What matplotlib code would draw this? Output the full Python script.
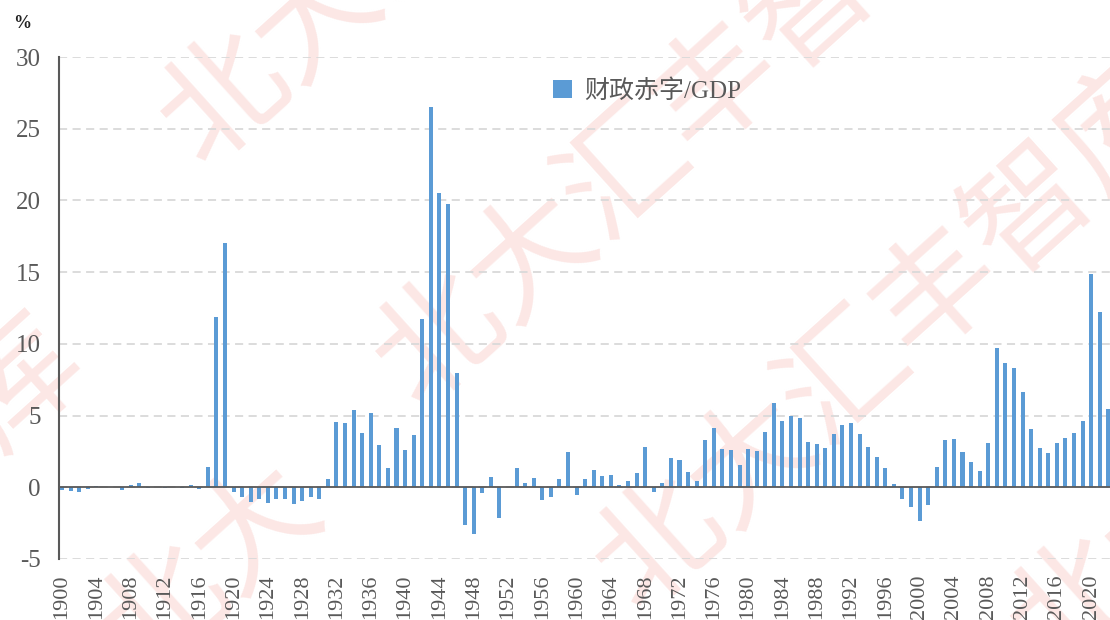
import numpy as np
import matplotlib.pyplot as plt

plt.rcParams['axes.unicode_minus'] = False

# deficit / GDP (%), 1900-2022
years = list(range(1900, 2023))
deficit = [
    -0.2, -0.25, -0.3, -0.12, 0.12, 0.02, 0.02, -0.2, 0.16, 0.28,      # 1900s
    -0.02, 0.02, -0.02, 0.02, -0.02, 0.14, -0.12, 1.4, 11.9, 17.0,     # 1910s
    -0.35, -0.7, -1.0, -0.85, -1.1, -0.8, -0.85, -1.2, -0.95, -0.7,    # 1920s
    -0.8, 0.6, 4.55, 4.5, 5.4, 3.8, 5.2, 2.95, 1.35, 4.1,              # 1930s
    2.6, 3.65, 11.7, 26.5, 20.55, 19.75, 8.0, -2.65, -3.25, -0.4,      # 1940s
    0.7, -2.15, 0.02, 1.33, 0.28, 0.65, -0.9, -0.7, 0.6, 2.45,         # 1950s
    -0.53, 0.6, 1.23, 0.76, 0.86, 0.19, 0.46, 1.0, 2.78, -0.32,        # 1960s
    0.28, 2.06, 1.9, 1.09, 0.42, 3.3, 4.12, 2.64, 2.6, 1.57,           # 1970s
    2.66, 2.52, 3.84, 5.86, 4.63, 4.95, 4.84, 3.15, 3.0, 2.73,         # 1980s
    3.73, 4.37, 4.49, 3.74, 2.81, 2.12, 1.33, 0.21, -0.79, -1.35,      # 1990s
    -2.37, -1.23, 1.44, 3.3, 3.4, 2.44, 1.77, 1.12, 3.07, 9.74,        # 2000s
    8.65, 8.35, 6.65, 4.07, 2.77, 2.4, 3.12, 3.44, 3.79, 4.6,          # 2010s
    14.9, 12.2, 5.44,                                                  # 2020s
]
xticks = list(range(1900, 2021, 4))
yticks = [-5, 0, 5, 10, 15, 20, 25, 30]
label = '财政赤字/GDP'
watermark = '北大汇丰智库'

serif = ['Liberation Serif', 'Noto Sans CJK SC']
grey = '#595959'

fig = plt.figure(figsize=(11.1, 6.2), dpi=100)
ax = fig.add_axes([0.0532, 0.0984, 0.9468, 0.8096])
ax.patch.set_alpha(0)

# faint watermark behind the plot (centre of first glyph, in pixels from top-left)
ang = np.deg2rad(42)
for cx, cy, txt in [(225, 100, watermark), (440, 340, watermark), (660, 545, watermark),
                    (20, 385, watermark[-1]), (165, 612, watermark[:2]),
                    (1075, 605, watermark[:2])]:
    x0 = cx - 62 * np.cos(ang)
    y0 = (620 - cy) - 62 * np.sin(ang)
    fig.text(x0 / 1110, y0 / 620, txt, fontsize=90, color='#fce7e5',
             rotation=42, rotation_mode='anchor', ha='left', va='center',
             family='Noto Sans CJK SC', fontweight='light', zorder=-10)

ax.bar(years, deficit, width=0.47, color='#5b9bd5', label=label, zorder=3)

ax.set_xlim(1899.65, 2022.2)
ax.set_ylim(-5, 30)
ax.set_yticks(yticks)
ax.set_xticks(xticks)
ax.set_xticklabels([str(y) for y in xticks], rotation=90)
ax.tick_params(axis='y', length=0, pad=13, labelsize=18, labelcolor=grey)
ax.tick_params(axis='x', length=0, pad=11, labelsize=16, labelcolor=grey)
for t in ax.get_xticklabels() + ax.get_yticklabels():
    t.set_family(serif)

ax.yaxis.grid(True, color='#d9d9d9', linestyle=(0, (4.5, 3)), linewidth=1.3)
ax.set_axisbelow(True)
ax.axhline(0, color=grey, linewidth=1.3, zorder=4)
for s in ['top', 'right', 'bottom']:
    ax.spines[s].set_visible(False)
ax.spines['left'].set_color(grey)
ax.spines['left'].set_linewidth(1.5)

fig.text(0.012, 0.962, '%', fontsize=13, color='#222222', family=serif,
         fontweight='bold', va='center')

leg = fig.legend(loc='center left', bbox_to_anchor=(553 / 1110, 1 - 91 / 620),
                 frameon=False, borderpad=0, borderaxespad=0,
                 handlelength=0.75, handleheight=0.75, handletextpad=0.5,
                 prop={'family': serif, 'size': 18})
for t in leg.get_texts():
    t.set_color(grey)

plt.savefig('out.png', dpi=100)
